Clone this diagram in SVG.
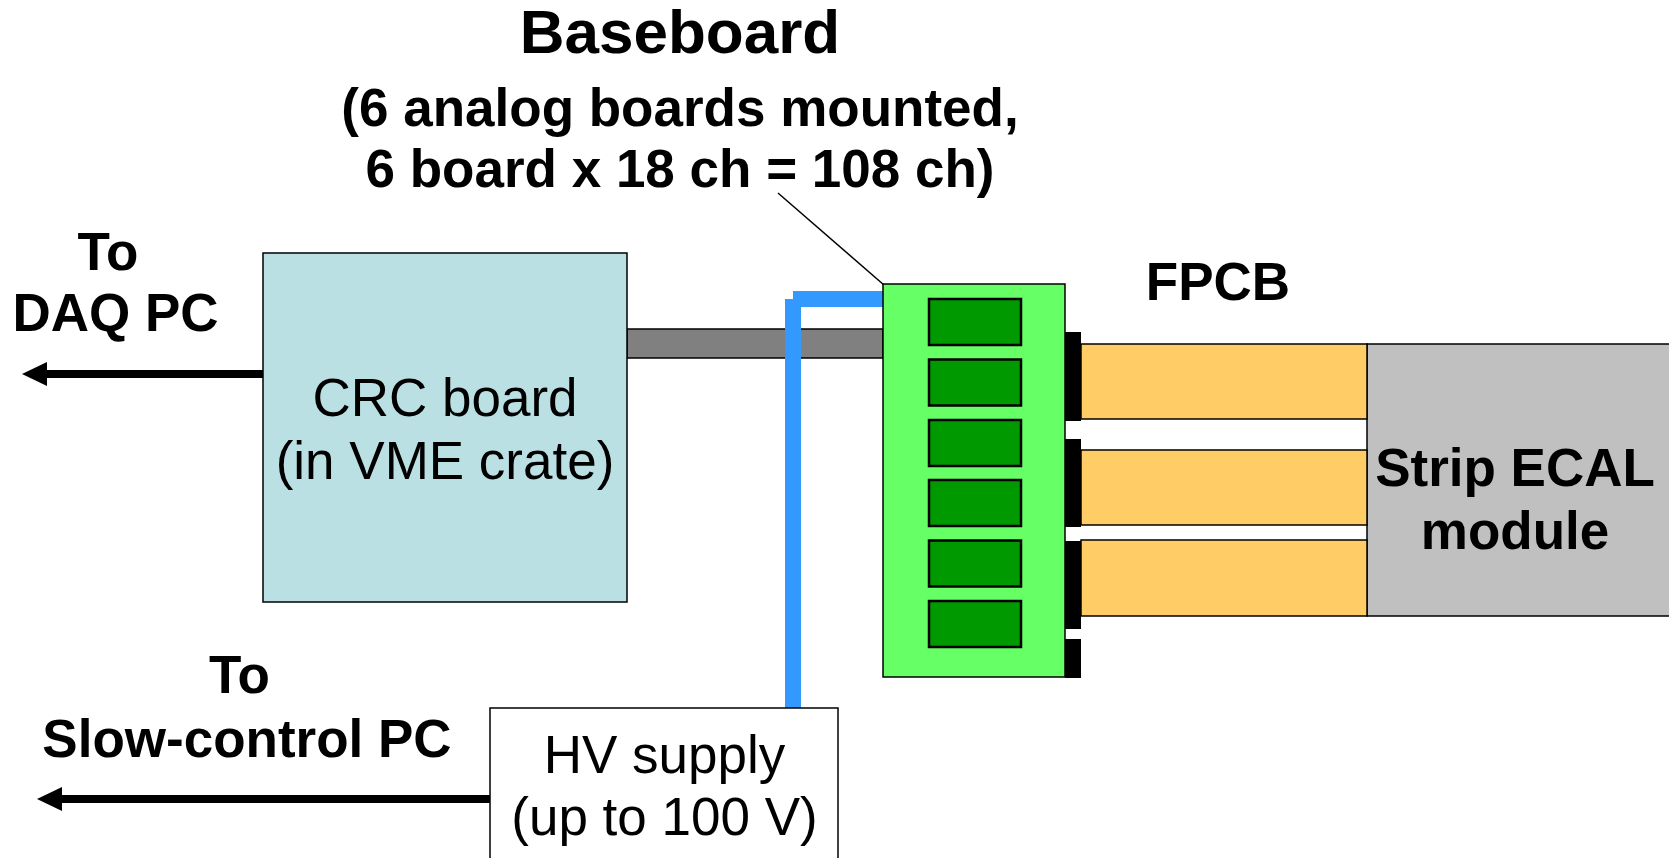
<svg xmlns="http://www.w3.org/2000/svg" width="1669" height="858" viewBox="0 0 1669 858">
<defs>
<style>
.b{font-family:"Liberation Sans",Arial,sans-serif;font-weight:bold;fill:#000;text-anchor:middle}
.r{font-family:"Liberation Sans",Arial,sans-serif;fill:#000;text-anchor:middle}
.box{stroke:#000;stroke-width:1.5}
.chip{fill:#009900;stroke:#000;stroke-width:2.5}
.fpcb{fill:#FFCC66;stroke:#000;stroke-width:1.5}
.conn{fill:#000}
</style>
<marker id="ah" markerUnits="userSpaceOnUse" markerWidth="26" markerHeight="24" refX="1" refY="12" orient="auto-start-reverse" viewBox="0 0 26 24">
<path d="M0,0 L25,12 L0,24 Z" fill="#000"/>
</marker>
</defs>
<rect width="1669" height="858" fill="#fff"/>

<g id="title">
<text class="b" x="680" y="53" font-size="62">Baseboard</text>
<text class="b" x="680" y="126" font-size="53">(6 analog boards mounted,</text>
<text class="b" x="680" y="187" font-size="53">6 board x 18 ch = 108 ch)</text>
</g>

<g id="strip-ecal">
<rect class="box" x="1367" y="344" width="320" height="272" fill="#C0C0C0"/>
<text class="b" x="1515" y="486" font-size="53">Strip ECAL</text>
<text class="b" x="1515" y="549" font-size="53">module</text>
</g>

<g id="fpcb">
<rect class="fpcb" x="1081" y="344" width="286" height="75"/>
<rect class="fpcb" x="1081" y="450" width="286" height="75"/>
<rect class="fpcb" x="1081" y="540" width="286" height="76"/>
<text class="b" x="1218" y="300" font-size="53">FPCB</text>
</g>

<g id="connectors">
<rect x="627" y="329" width="256" height="29" fill="#808080" stroke="#000" stroke-width="1.5"/>
<line x1="793" y1="299" x2="883" y2="299" stroke="#3399FF" stroke-width="16"/>
<line x1="793" y1="299" x2="793" y2="708" stroke="#3399FF" stroke-width="16"/>
<line x1="778" y1="193" x2="884" y2="285" stroke="#000" stroke-width="1.5"/>
<line x1="263" y1="374" x2="46" y2="374" stroke="#000" stroke-width="8" marker-end="url(#ah)"/>
<line x1="490" y1="799" x2="61" y2="799" stroke="#000" stroke-width="8" marker-end="url(#ah)"/>
</g>

<g id="baseboard">
<rect class="box" x="883" y="284" width="182" height="393" fill="#66FF66" stroke-width="2"/>
<rect class="chip" x="929" y="299" width="92" height="46"/>
<rect class="chip" x="929" y="359.5" width="92" height="46"/>
<rect class="chip" x="929" y="420" width="92" height="46"/>
<rect class="chip" x="929" y="480" width="92" height="46"/>
<rect class="chip" x="929" y="540.5" width="92" height="46"/>
<rect class="chip" x="929" y="601" width="92" height="46"/>
<rect class="conn" x="1065" y="332" width="16" height="89"/>
<rect class="conn" x="1065" y="439" width="16" height="88"/>
<rect class="conn" x="1065" y="541" width="16" height="88"/>
<rect class="conn" x="1065" y="639" width="16" height="39"/>
</g>

<g id="crc">
<rect class="box" x="263" y="253" width="364" height="349" fill="#BBE0E3"/>
<text class="r" x="445" y="416" font-size="53">CRC board</text>
<text class="r" x="445" y="479" font-size="53">(in VME crate)</text>
</g>

<g id="hv">
<rect class="box" x="490" y="708" width="348" height="170" fill="#fff"/>
<text class="r" x="664.5" y="773" font-size="53">HV supply</text>
<text class="r" x="664.5" y="835" font-size="53">(up to 100 V)</text>
</g>

<g id="daq-label">
<text class="b" x="108" y="270" font-size="53">To</text>
<text class="b" x="115.5" y="331" font-size="53">DAQ PC</text>
</g>

<g id="slow-label">
<text class="b" x="239.5" y="693" font-size="53">To</text>
<text class="b" x="247" y="757" font-size="53">Slow-control PC</text>
</g>
</svg>
